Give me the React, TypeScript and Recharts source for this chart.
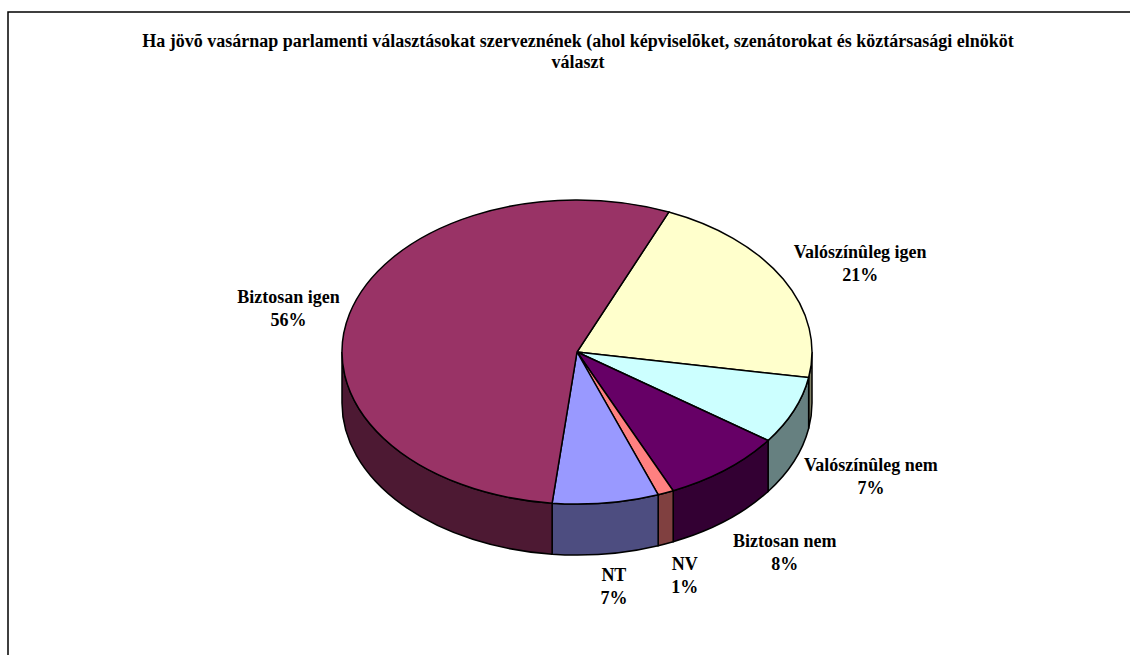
import { PieChart, Pie, Cell } from "recharts";

const categories = [
  "Valószínûleg igen",
  "Valószínûleg nem",
  "Biztosan nem",
  "NV",
  "NT",
  "Biztosan igen",
];
// slice sizes as measured on the drawing, the printed labels are the rounded source figures
const shares = [21.3, 7.2, 8.4, 1.1, 7.3, 54.7];
const printedPercents = ["21%", "7%", "8%", "1%", "7%", "56%"];
const topColors = ["#FFFFCC", "#CCFFFF", "#660066", "#FF8080", "#9999FF", "#993366"];
const sideColors = ["#808066", "#668080", "#330033", "#804040", "#4D4D80", "#4D1933"];
const titleLines = [
  "Ha jövõ vasárnap parlamenti választásokat szerveznének (ahol képviselõket, szenátorokat és köztársasági elnököt",
  "választ",
];

// label centre, relative to the pie edge at the middle of each slice
const labelNudge = [
  [77, -17],
  [77, 64],
  [59, 81],
  [19, 81],
  [8, 82],
  [-61, -7],
];

const data = categories.map((name, i) => ({ name, value: shares[i] }));

const SQUASH = 0.647;
const DEPTH = 51;
const SERIF = '"Liberation Serif", "Times New Roman", serif';

const rad = (deg: number) => (deg * Math.PI) / 180;

// recharts hands over circular sector angles, flatten them to an ellipse
function FlatSlice(props: any) {
  const { cx, cy, outerRadius: rx, startAngle, endAngle, fill, index } = props;
  const ry = rx * SQUASH;
  const from = -startAngle;
  const to = -endAngle;
  const px = (t: number) => cx + rx * Math.cos(rad(t));
  const py = (t: number) => cy + ry * Math.sin(rad(t));

  const walls = [];
  for (const k of [-1, 0, 1]) {
    const a = Math.max(from, 360 * k);
    const b = Math.min(to, 360 * k + 180);
    if (b > a) {
      walls.push(
        `M${px(a)},${py(a)} A${rx},${ry} 0 0 1 ${px(b)},${py(b)} ` +
          `L${px(b)},${py(b) + DEPTH} A${rx},${ry} 0 0 0 ${px(a)},${py(a) + DEPTH} Z`
      );
    }
  }
  const large = to - from > 180 ? 1 : 0;

  return (
    <g>
      {walls.map((d, i) => (
        <path key={i} d={d} fill={sideColors[index ?? categories.indexOf(props.name)]} stroke="#000" strokeWidth={1.5} />
      ))}
      <path
        d={`M${cx},${cy} L${px(from)},${py(from)} A${rx},${ry} 0 ${large} 1 ${px(to)},${py(to)} Z`}
        fill={fill}
        stroke="#000"
        strokeWidth={1.5}
      />
    </g>
  );
}

function SliceLabel(props: any) {
  const { cx, cy, outerRadius: rx, midAngle, index, name } = props;
  const x = cx + rx * Math.cos(rad(-midAngle)) + labelNudge[index][0];
  const y = cy + rx * SQUASH * Math.sin(rad(-midAngle)) + labelNudge[index][1];
  return (
    <text x={x} y={y} textAnchor="middle" fontFamily={SERIF} fontWeight="bold" fontSize={18} fill="#000">
      <tspan x={x} dy={-4}>{name}</tspan>
      <tspan x={x} dy={23}>{printedPercents[index]}</tspan>
    </text>
  );
}

export default function App() {
  return (
    <div style={{ position: "absolute", left: 0, top: 0, width: 1130, height: 655, background: "#fff" }}>
      <PieChart width={1130} height={655} margin={{ top: 0, right: 0, bottom: 0, left: 0 }}>
        <rect x={8} y={12} width={1140} height={660} fill="#fff" stroke="#000" strokeWidth={1.5} />
        {titleLines.map((line, i) => (
          <text key={i} x={578} y={47 + i * 21} textAnchor="middle" fontFamily={SERIF} fontWeight="bold" fontSize={18} fill="#000">
            {line}
          </text>
        ))}
        <Pie
          data={data}
          dataKey="value"
          nameKey="name"
          cx={577}
          cy={352}
          outerRadius={235}
          startAngle={67}
          endAngle={-293}
          shape={FlatSlice}
          activeShape={FlatSlice}
          inactiveShape={FlatSlice}
          label={SliceLabel}
          labelLine={false}
          isAnimationActive={false}
        >
          {data.map((d, i) => (
            <Cell key={d.name} fill={topColors[i]} />
          ))}
        </Pie>
      </PieChart>
    </div>
  );
}
